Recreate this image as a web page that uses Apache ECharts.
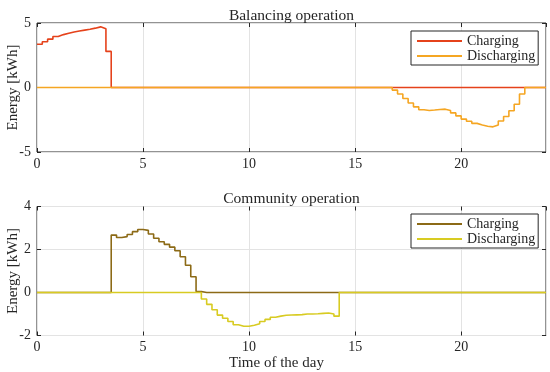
<!DOCTYPE html>
<html>
<head>
<meta charset="utf-8">
<script src="https://cdn.jsdelivr.net/npm/echarts@6/dist/echarts.min.js"></script>
<style>
html,body{margin:0;padding:0;background:#fff;}
#c{width:550px;height:372px;}
</style>
</head>
<body>
<div id="c"></div>
<script>
// ---- Data (15-minute slots, values in kWh) ----
const slotHours = 0.25;
const dayHours = 24;
const xTicks = [0, 5, 10, 15, 20];

const balChargeStart = 0;
const balCharge = [3.35, 3.55, 3.75, 3.95, 4.1, 4.2, 4.3, 4.38, 4.45, 4.52, 4.6, 4.7, 4.55, 2.8];
const balDischargeStart = 16.75;
const balDischarge = [-0.2, -0.5, -0.85, -1.2, -1.5, -1.72, -1.78, -1.75, -1.7, -1.68, -1.78, -1.97, -2.2, -2.45,
                      -2.62, -2.78, -2.9, -3.0, -3.05, -2.9, -2.6, -2.25, -1.8, -1.3, -0.5];

const comChargeStart = 3.5;
const comCharge = [2.67, 2.56, 2.6, 2.7, 2.83, 2.93, 2.89, 2.72, 2.52, 2.36, 2.24, 2.11, 1.94, 1.66, 1.27, 0.73, 0.05];
const comDischargeStart = 7.75;
const comDischarge = [-0.3, -0.55, -0.8, -1.05, -1.2, -1.35, -1.5, -1.57, -1.57, -1.52, -1.45, -1.35, -1.25,
                      -1.15, -1.1, -1.06, -1.05, -1.04, -1.03, -1.0, -1.0, -0.99, -0.97, -0.95, -1.0, -1.1];

const titles = ['Balancing operation', 'Community operation'];
const yLabel = 'Energy [kWh]';
const xLabel = 'Time of the day';
const legendNames = ['Charging', 'Discharging'];

const colors = {
  balCharge: '#E5421B',
  balDischarge: '#F5A623',
  comCharge: '#8C6A16',
  comDischarge: '#D8CB22'
};

// Build a full-day step series from a segment
function daySeries(start, vals) {
  const n = Math.round(dayHours / slotHours);
  const s = Math.round(start / slotHours);
  const slots = new Array(n).fill(0);
  vals.forEach((v, i) => { slots[s + i] = v; });
  const pts = slots.map((v, i) => [i * slotHours, v]);
  pts.push([dayHours, slots[n - 1]]);
  return pts;
}

const FONT = 'Liberation Serif';
const TXT = '#262626';
const GRIDC = '#e3e3e3';

const grids = [
  {left: 37, right: 4, top: 23, height: 129, show: true, borderColor: TXT, borderWidth: 1,
   containLabel: false, outerBoundsMode: 'none'},
  {left: 37, right: 4, top: 206.5, height: 129, show: true, borderColor: TXT, borderWidth: 1,
   containLabel: false, outerBoundsMode: 'none'}
];

function xAxes(gi) {
  const base = {
    type: 'value', gridIndex: gi, min: 0, max: dayHours, interval: 5,
    axisLine: {show: false, onZero: false},
    axisTick: {show: true, inside: true, length: 4, lineStyle: {color: TXT}},
    splitLine: {show: false}
  };
  return [
    Object.assign({}, base, {
      position: 'bottom',
      splitLine: {show: true, lineStyle: {color: GRIDC, width: 1}},
      axisLabel: {show: true, color: TXT, fontFamily: FONT, fontSize: 14, margin: 5, showMaxLabel: false,
        formatter: v => xTicks.includes(v) ? String(v) : ''}
    }),
    Object.assign({}, base, {position: 'top', axisLabel: {show: false}})
  ];
}

function yAxes(gi, min, max, interval) {
  const base = {
    type: 'value', gridIndex: gi, min: min, max: max, interval: interval,
    axisLine: {show: false, onZero: false},
    axisTick: {show: true, inside: true, length: 4, lineStyle: {color: TXT}},
    splitLine: {show: false}
  };
  return [
    Object.assign({}, base, {
      position: 'left',
      splitLine: {show: true, lineStyle: {color: GRIDC, width: 1}},
      axisLabel: {show: true, color: TXT, fontFamily: FONT, fontSize: 14, margin: 6},
      name: yLabel, nameLocation: 'middle', nameGap: 16, nameRotate: 90, nameMoveOverlap: false,
      nameTextStyle: {color: TXT, fontFamily: FONT, fontSize: 15}
    }),
    Object.assign({}, base, {position: 'right', axisLabel: {show: false}})
  ];
}

function lineSeries(name, xi, yi, data, color) {
  return {
    type: 'line', name: name, xAxisIndex: xi, yAxisIndex: yi, data: data,
    step: 'end', symbol: 'none', showSymbol: false, animation: false,
    lineStyle: {color: color, width: 1.6}, itemStyle: {color: color}
  };
}

function legend(top, names) {
  return {
    orient: 'vertical', left: 411, top: top, data: names,
    icon: 'rect', itemWidth: 45, itemHeight: 2, itemGap: 1,
    padding: [3, 3, 2, 6], borderColor: TXT, borderWidth: 1, backgroundColor: '#fff',
    textStyle: {color: TXT, fontFamily: FONT, fontSize: 14},
    formatter: n => n.split('|')[0],
    selectedMode: false
  };
}

const titleStyle = {color: TXT, fontFamily: FONT, fontSize: 15.5, fontWeight: 'normal'};
const option = {
  backgroundColor: '#fff',
  animation: false,
  title: [
    {text: titles[0], left: 286.5, top: 3, textAlign: 'center', textStyle: titleStyle},
    {text: titles[1], left: 286.5, top: 186, textAlign: 'center', textStyle: titleStyle},
    {text: xLabel, left: 271.5, top: 351, textAlign: 'center',
     textStyle: {color: TXT, fontFamily: FONT, fontSize: 15, fontWeight: 'normal'}}
  ],
  grid: grids,
  xAxis: [...xAxes(0), ...xAxes(1)],
  yAxis: [...yAxes(0, -5, 5, 5), ...yAxes(1, -2, 4, 2)],
  legend: [
    legend(31, [legendNames[0] + '|a', legendNames[1] + '|a']),
    legend(214, [legendNames[0] + '|b', legendNames[1] + '|b'])
  ],
  series: [
    lineSeries(legendNames[0] + '|a', 0, 0, daySeries(balChargeStart, balCharge), colors.balCharge),
    lineSeries(legendNames[1] + '|a', 0, 0, daySeries(balDischargeStart, balDischarge), colors.balDischarge),
    lineSeries(legendNames[0] + '|b', 2, 2, daySeries(comChargeStart, comCharge), colors.comCharge),
    lineSeries(legendNames[1] + '|b', 2, 2, daySeries(comDischargeStart, comDischarge), colors.comDischarge)
  ]
};

const chart = echarts.init(document.getElementById('c'), null, {renderer: 'canvas'});
chart.setOption(option);
</script>
</body>
</html>
